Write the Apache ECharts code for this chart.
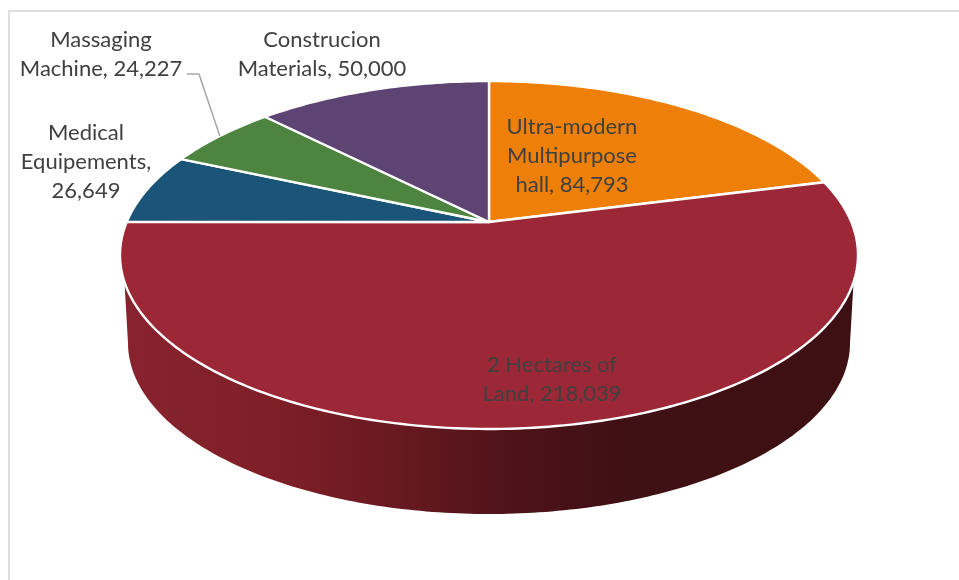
<!DOCTYPE html>
<html>
<head>
<meta charset="utf-8">
<style>html,body{margin:0;padding:0;background:#fff}#c{width:959px;height:580px}</style>
<script src="https://cdn.jsdelivr.net/npm/echarts@6/dist/echarts.min.js"></script>
</head>
<body>
<div id="c"></div>
<script>
const categories = ['Ultra-modern\nMultipurpose\nhall', '2 Hectares of\nLand', 'Medical\nEquipements', 'Massaging\nMachine', 'Construcion\nMaterials'];
const values = [84793, 218039, 26649, 24227, 50000];
const labelSeparators = [', ', ', ', ',\n', ', ', ', '];
const sliceColors = ['#ee8009', '#9c2736', '#1a5478', '#4d843f', '#5e4473'];
const labelCenters = [[572, 156], [552, 379], [86, 162], [101, 54], [322, 54]];

const APEX = [489, 222];
const HALF_W = 362.3, PLANE_B = 167.7, PERSP = 0.1897;
const LOWER = {cx: 489, cy: 343, rx: 361, ry: 171};
const UPPER_CY = 255, UPPER_RX = 369, UPPER_RY = 174;
const total = values.reduce((a, b) => a + b, 0);

function project(theta) {
  const u = Math.sin(theta), v = Math.cos(theta), d = 1 + PERSP * v;
  return [APEX[0] + HALF_W * u / d, APEX[1] - PLANE_B * v / d];
}
function startFraction(i) {
  let s = 0;
  for (let k = 0; k < i; k++) s += values[k];
  return s / total;
}
function renderItem(params, api) {
  const i = params.dataIndex;
  const a0 = startFraction(i) * 2 * Math.PI;
  const a1 = a0 + api.value(0) / total * 2 * Math.PI;
  const pts = [APEX.slice()];
  const steps = Math.max(8, Math.ceil((a1 - a0) * 180 / Math.PI));
  for (let s = 0; s <= steps; s++) pts.push(project(a0 + (a1 - a0) * s / steps));
  const children = [];
  if (a0 < Math.PI && a1 > Math.PI) {
    const wall = [];
    const lift = Math.sqrt(1 - Math.pow((LOWER.cy - 65 - UPPER_CY) / UPPER_RY, 2));
    wall.push([UPPER_RX * lift * -1 + APEX[0] + 1, LOWER.cy - 65]);
    for (let d = 180; d <= 360; d += 1) {
      const r = d * Math.PI / 180;
      wall.push([LOWER.cx + LOWER.rx * Math.cos(r), LOWER.cy - LOWER.ry * Math.sin(r)]);
    }
    wall.push([UPPER_RX * lift + APEX[0] - 1, LOWER.cy - 65]);
    children.push({
      type: 'polygon', z2: 0, shape: {points: wall},
      style: {fill: new echarts.graphic.LinearGradient(0, 0, 1, 0, [
        {offset: 0, color: '#87232e'},
        {offset: 0.2, color: '#7f1f28'},
        {offset: 0.37, color: '#691921'},
        {offset: 0.5, color: '#52141a'},
        {offset: 0.68, color: '#3f1014'},
        {offset: 1, color: '#3d1013'}
      ])}
    });
  }
  children.push({
    type: 'polygon', z2: 5, shape: {points: pts},
    style: {fill: sliceColors[i], stroke: '#fff', lineWidth: 2.4, lineJoin: 'round'}
  });
  children.push({
    type: 'text', z2: 20,
    style: {
      x: labelCenters[i][0], y: labelCenters[i][1],
      text: categories[i] + labelSeparators[i] + api.value(0).toLocaleString('en-US'),
      fill: '#404040', font: '22px Lato', align: 'center', verticalAlign: 'middle', lineHeight: 29
    }
  });
  if (i === 3) {
    const end = project((a0 + a1) / 2);
    children.push({
      type: 'polyline', z2: 10,
      shape: {points: [[187, 74], [199, 74], end]},
      style: {fill: 'none', stroke: '#a6a6a6', lineWidth: 1.5}
    });
  }
  return {type: 'group', children};
}
const chart = echarts.init(document.getElementById('c'), null, {renderer: 'canvas'});
chart.setOption({
  animation: false,
  backgroundColor: '#fff',
  graphic: [
    {type: 'line', shape: {x1: 9, y1: 11, x2: 959, y2: 11}, style: {stroke: '#dedede', lineWidth: 2}},
    {type: 'line', shape: {x1: 9, y1: 10, x2: 9, y2: 580}, style: {stroke: '#dedede', lineWidth: 2}}
  ],
  series: [{
    type: 'custom',
    coordinateSystem: 'none',
    renderItem,
    data: values.map((v, i) => ({name: categories[i], value: [v]}))
  }]
});
</script>
</body>
</html>
